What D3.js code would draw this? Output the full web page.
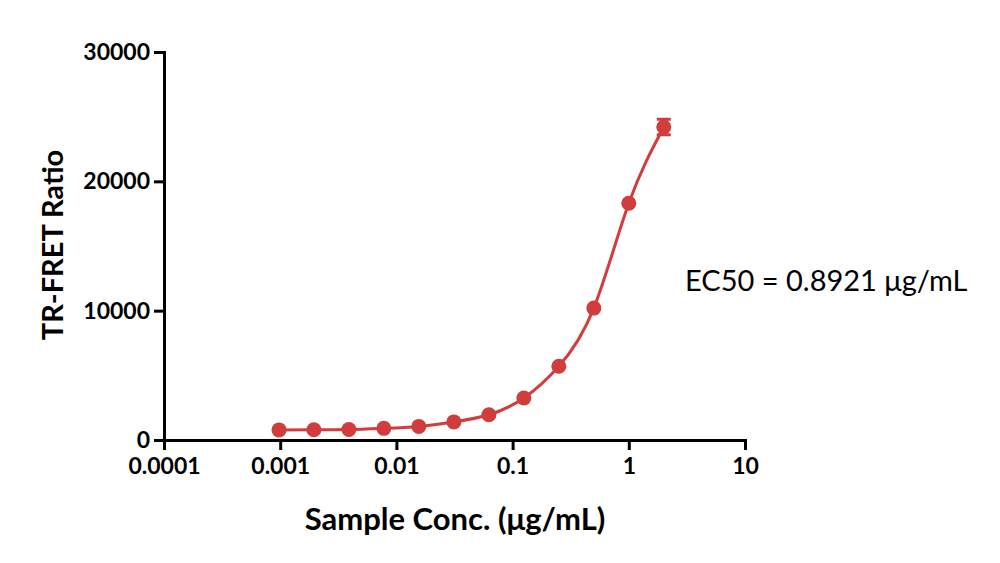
<!DOCTYPE html>
<html>
<head>
<meta charset="utf-8">
<script src="https://cdn.jsdelivr.net/npm/d3@7"></script>
<style>
  body { margin: 0; background: #fff; }
  .axis path, .axis line { stroke: #000; stroke-width: 3px; }
  .axis text { font-family: Lato, "Open Sans", sans-serif; font-weight: bold; font-size: 23px; fill: #000; }
</style>
</head>
<body>
<div id="chart"></div>
<script>
// concentrations (ug/mL), 2-fold dilutions from 2
var conc = [0.000977, 0.00195, 0.0039, 0.0078, 0.0156, 0.03125, 0.0625, 0.125, 0.25, 0.5, 1, 2]
var ratio = [780, 790, 810, 900, 1050, 1400, 1950, 3250, 5700, 10200, 18300, 24200]
var errs = [0, 0, 0, 0, 0, 0, 0, 0, 0, 0, 0, 600]
var xTicks = [0.0001, 0.001, 0.01, 0.1, 1, 10]
var yTicks = [0, 10000, 20000, 30000]

var red = "#d13c3c"

var width = 1000, height = 563

var svg = d3.select("#chart")
    .append("svg")
    .attr("width", width)
    .attr("height", height)

var x = d3.scaleLog()
    .domain([0.0001, 10])
    .range([164, 745])

var y = d3.scaleLinear()
    .domain([0, 30000])
    .range([440, 52])

// axes
svg.append("g")
    .attr("class", "axis")
    .attr("transform", "translate(0,440)")
    .call(d3.axisBottom(x).tickValues(xTicks).tickFormat(d => String(d)).tickSize(10).tickSizeOuter(0).tickPadding(8))

svg.append("g")
    .attr("class", "axis")
    .attr("transform", "translate(164,0)")
    .call(d3.axisLeft(y).tickValues(yTicks).tickFormat(d => String(d)).tickSize(10).tickSizeOuter(0).tickPadding(4))

svg.selectAll(".axis path").attr("stroke-linecap", "square")

// fitted curve
var pts = conc.map(function (c, i) { return [c, ratio[i]] })
var line = d3.line()
    .x(d => x(d[0]))
    .y(d => y(d[1]))
    .curve(d3.curveNatural)

svg.append("path")
    .datum(pts)
    .attr("d", line)
    .attr("fill", "none")
    .attr("stroke", red)
    .attr("stroke-width", 3)

// error bars
var eb = svg.append("g")
pts.forEach(function (d, i) {
    if (!errs[i]) return
    eb.append("line")
        .attr("x1", x(d[0])).attr("x2", x(d[0]))
        .attr("y1", y(d[1] - errs[i])).attr("y2", y(d[1] + errs[i]))
        .attr("stroke", red).attr("stroke-width", 3)
    ;[d[1] - errs[i], d[1] + errs[i]].forEach(function (v) {
        eb.append("line")
            .attr("x1", x(d[0]) - 7).attr("x2", x(d[0]) + 7)
            .attr("y1", y(v)).attr("y2", y(v))
            .attr("stroke", red).attr("stroke-width", 3)
    })
})

// points
svg.selectAll("circle.pt")
    .data(pts)
    .enter()
    .append("circle")
    .attr("class", "pt")
    .attr("cx", d => x(d[0]))
    .attr("cy", d => y(d[1]))
    .attr("r", 7.5)
    .attr("fill", red)

// titles
svg.append("text")
    .attr("x", 455)
    .attr("y", 530)
    .attr("text-anchor", "middle")
    .style("font-family", "Lato, 'Open Sans', sans-serif")
    .style("font-weight", "bold")
    .style("font-size", "31px")
    .text("Sample Conc. (μg/mL)")

svg.append("text")
    .attr("transform", "translate(63,245) rotate(-90)")
    .attr("text-anchor", "middle")
    .style("font-family", "Lato, 'Open Sans', sans-serif")
    .style("font-weight", "bold")
    .style("font-size", "29px")
    .text("TR-FRET Ratio")

svg.append("text")
    .attr("x", 685)
    .attr("y", 291)
    .style("font-family", "Lato, 'Open Sans', sans-serif")
    .style("font-size", "29px")
    .text("EC50 = 0.8921 μg/mL")
</script>
</body>
</html>
